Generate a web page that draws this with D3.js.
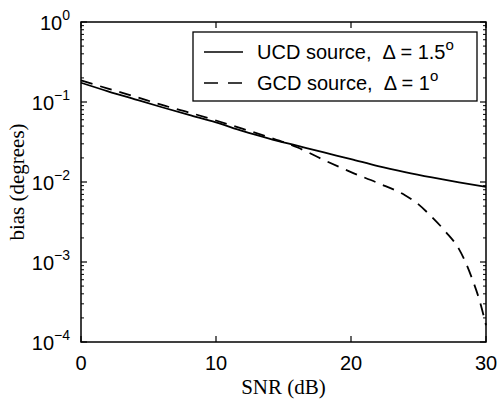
<!DOCTYPE html>
<html><head><meta charset="utf-8">
<script src="https://cdn.jsdelivr.net/npm/d3@7"></script>
<style>body{margin:0;background:#fff}</style>
</head><body>
<svg id="chart" width="498" height="406"></svg>
<script>
const ucdSnr  = [0,2,4,6,8,10,12,14,16,18,20,22,24,26,28,30];
const ucdBias = [0.174,0.136,0.108,0.086,0.069,0.0556,0.0432,0.0347,0.0285,0.0234,0.0193,0.0158,0.0133,0.0114,0.0099,0.0087];
const gcdSnr  = [0,2,4,6,8,10,12,14,16,18,20,22,24,25,26,27,28,28.5,29,29.5,30];
const gcdBias = [0.186,0.147,0.117,0.0918,0.074,0.0587,0.046,0.036,0.0272,0.0188,0.0133,0.0097,0.00684,0.00525,0.00363,0.0024,0.00145,0.00098,0.0006,0.00034,0.000162];
const xTicks = [0,10,20,30];
const yExps = [0,-1,-2,-3,-4];
const legendLabels = [{t:"UCD source,  \u0394 = 1.5", dash:null},{t:"GCD source,  \u0394 = 1", dash:"14,10"}];
const xLabel = "SNR (dB)", yLabel = "bias (degrees)";

const svg = d3.select("#chart");
const L=81, R=486, T=22, B=342;
const x = d3.scaleLinear().domain([0,30]).range([L,R]);
const y = d3.scaleLog().domain([1e-4,1]).range([B,T]);
const sans = "'Liberation Sans', Arial, sans-serif";
const serif = "'Liberation Serif', 'Times New Roman', serif";

const minors = [];
for (let e=-4; e<0; e++) for (let m=2; m<=9; m++) minors.push(m*Math.pow(10,e));
const g = svg.append("g");
minors.forEach(v=>{
  g.append("line").attr("x1",L).attr("x2",L+3).attr("y1",y(v)).attr("y2",y(v)).attr("stroke","#000").attr("stroke-width",1);
  g.append("line").attr("x1",R).attr("x2",R-3).attr("y1",y(v)).attr("y2",y(v)).attr("stroke","#000").attr("stroke-width",1);
});
yExps.forEach(e=>{
  const v=Math.pow(10,e);
  g.append("line").attr("x1",L).attr("x2",L+6).attr("y1",y(v)).attr("y2",y(v)).attr("stroke","#000").attr("stroke-width",1.2);
  g.append("line").attr("x1",R).attr("x2",R-6).attr("y1",y(v)).attr("y2",y(v)).attr("stroke","#000").attr("stroke-width",1.2);
  const t = g.append("text").attr("x",L-11).attr("y",y(v)+8).attr("text-anchor","end")
    .attr("font-family",sans).attr("font-size",20);
  t.append("tspan").text("10");
  t.append("tspan").attr("dy",-10).attr("font-size",14).text(e===0?"0":"\u2212"+(-e));
});
xTicks.forEach(v=>{
  g.append("line").attr("x1",x(v)).attr("x2",x(v)).attr("y1",B).attr("y2",B-6).attr("stroke","#000").attr("stroke-width",1.2);
  g.append("line").attr("x1",x(v)).attr("x2",x(v)).attr("y1",T).attr("y2",T+6).attr("stroke","#000").attr("stroke-width",1.2);
  g.append("text").attr("x",x(v)).attr("y",B+28).attr("text-anchor","middle")
    .attr("font-family",sans).attr("font-size",20).text(v);
});
svg.append("rect").attr("x",L).attr("y",T).attr("width",R-L).attr("height",B-T)
  .attr("fill","none").attr("stroke","#000").attr("stroke-width",1.5);

const line = d3.line().x(d=>x(d[0])).y(d=>y(d[1])).curve(d3.curveMonotoneX);
svg.append("path").datum(ucdSnr.map((s,i)=>[s,ucdBias[i]])).attr("d",line)
  .attr("fill","none").attr("stroke","#000").attr("stroke-width",1.8);
svg.append("path").datum(gcdSnr.map((s,i)=>[s,gcdBias[i]])).attr("d",line)
  .attr("fill","none").attr("stroke","#000").attr("stroke-width",1.8).attr("stroke-dasharray","12,8");

svg.append("rect").attr("x",193).attr("y",32).attr("width",284).attr("height",69)
  .attr("fill","#fff").attr("stroke","#000").attr("stroke-width",1.3);
legendLabels.forEach((d,i)=>{
  const yy = 52 + i*31;
  const ln = svg.append("line").attr("x1",204).attr("x2",243).attr("y1",yy).attr("y2",yy)
    .attr("stroke","#000").attr("stroke-width",1.6);
  if (d.dash) ln.attr("stroke-dasharray",d.dash);
  const t = svg.append("text").attr("x",257).attr("y",yy+7).attr("font-family",sans).attr("font-size",20).attr("xml:space","preserve");
  t.append("tspan").text(d.t);
  t.append("tspan").attr("dy",-9).attr("font-size",15).text("o");
});

svg.append("text").attr("x",(L+R)/2).attr("y",394).attr("text-anchor","middle")
  .attr("font-family",serif).attr("font-size",21).text(xLabel);
svg.append("text").attr("transform",`translate(24,${(T+B)/2}) rotate(-90)`).attr("text-anchor","middle")
  .attr("font-family",serif).attr("font-size",21).text(yLabel);
</script>
</body></html>
